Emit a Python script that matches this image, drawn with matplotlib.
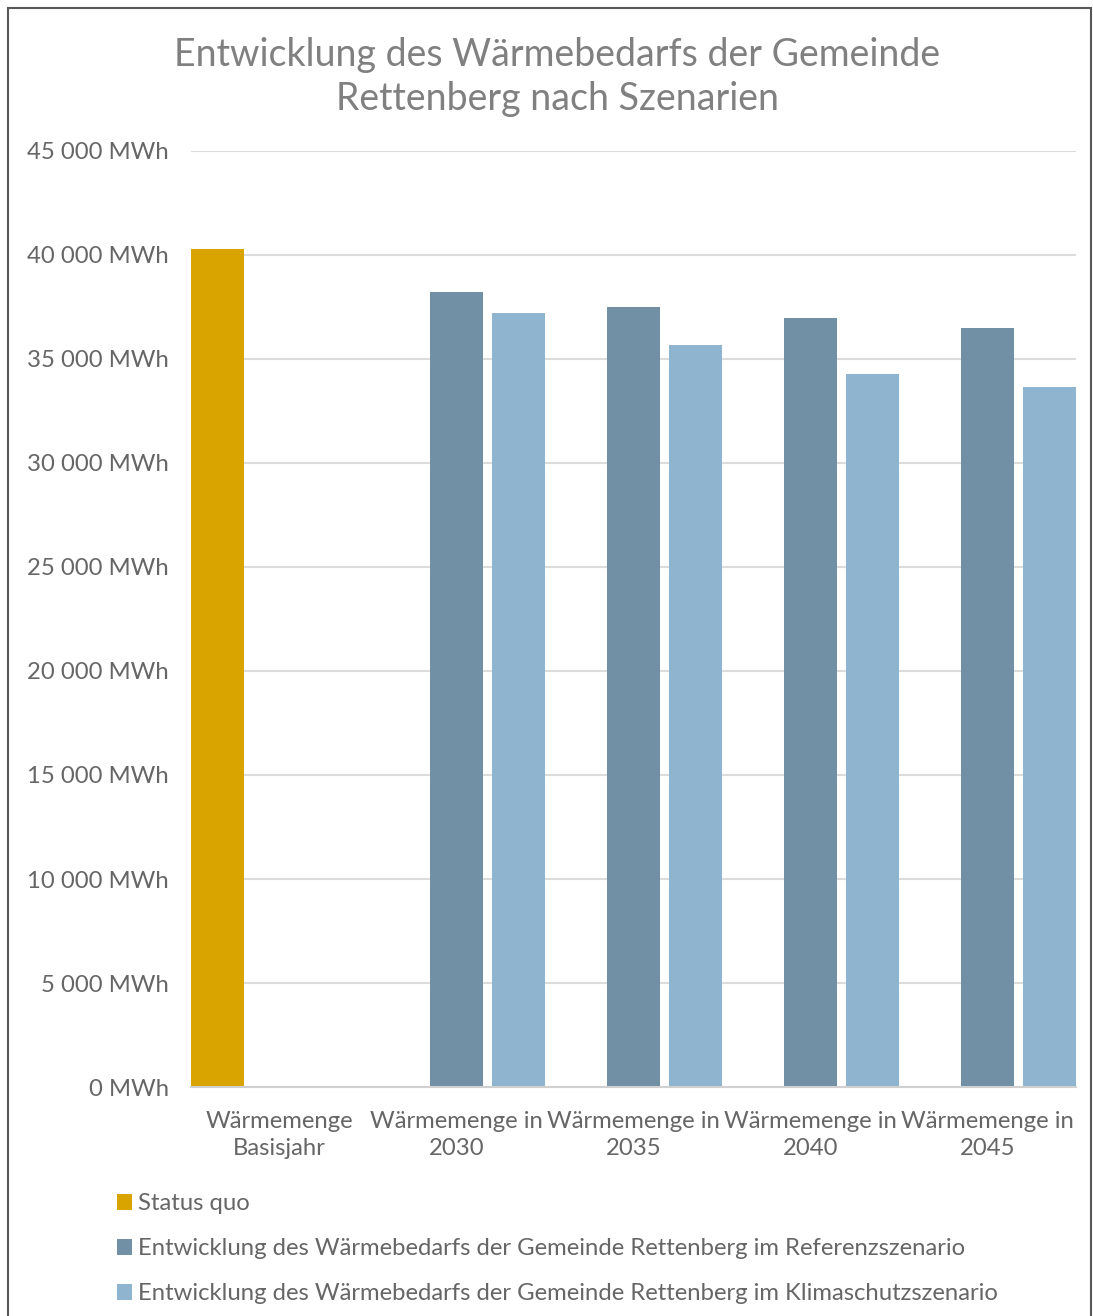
import numpy as np
import matplotlib.pyplot as plt
from matplotlib.patches import Rectangle

plt.rcParams['font.family'] = ['Lato', 'DejaVu Sans']

categories = ["Wärmemenge\nBasisjahr", "Wärmemenge in\n2030", "Wärmemenge in\n2035",
              "Wärmemenge in\n2040", "Wärmemenge in\n2045"]
status_quo = [40300, np.nan, np.nan, np.nan, np.nan]
referenz = [np.nan, 38200, 37500, 36950, 36500]
klimaschutz = [np.nan, 37200, 35650, 34300, 33650]
series_names = ["Status quo",
                "Entwicklung des Wärmebedarfs der Gemeinde Rettenberg im Referenzszenario",
                "Entwicklung des Wärmebedarfs der Gemeinde Rettenberg im Klimaschutzszenario"]
colors = ["#D9A300", "#718FA5", "#8EB4CF"]

text_col = "#666666"
fs = 17.2

fig = plt.figure(figsize=(10.93, 13.16), dpi=100)
ax = fig.add_axes([191/1093, 1 - 1087/1316, (1076-191)/1093, (1087-151)/1316])

x = np.arange(len(categories))
w = 0.3
step = 0.35
for i, (vals, c, name) in enumerate(zip([status_quo, referenz, klimaschutz], colors, series_names)):
    ax.bar(x + (i - 1) * step, vals, width=w, color=c, label=name, zorder=3)

ax.set_xlim(-0.5, len(categories) - 0.5)
ax.set_ylim(0, 45000)
ax.set_yticks(np.arange(0, 45001, 5000))
ax.set_yticklabels([f"{v:,} MWh".replace(",", " ") for v in range(0, 45001, 5000)])
ax.set_xticks(x)
ax.set_xticklabels(categories, linespacing=1.4)
ax.tick_params(axis='both', length=0, labelsize=fs, colors=text_col)
ax.tick_params(axis='y', pad=16)
ax.tick_params(axis='x', pad=17)
ax.grid(axis='y', color="#dcdcdc", linewidth=1.5, zorder=0)
for s in ['left', 'right', 'top']:
    ax.spines[s].set_visible(False)
ax.spines['bottom'].set_color("#d0d0d0")
ax.spines['bottom'].set_linewidth(1.5)
ax.spines['bottom'].set_zorder(4)

fig.text(557/1093, 1 - 77/1316, "Entwicklung des Wärmebedarfs der Gemeinde\nRettenberg nach Szenarien",
         ha='center', va='center', fontsize=27, color="#808080", linespacing=1.3)

# legend below the axes
handles, labels = ax.get_legend_handles_labels()
fig.legend(handles, labels, loc='upper left', bbox_to_anchor=(95/1093, 1 - 1172/1316),
           frameon=False, fontsize=fs, labelcolor=text_col, handlelength=0.65,
           handleheight=0.65, handletextpad=0.25, labelspacing=1.0)

# outer frame of the chart area
fig.patches.append(Rectangle((8/1093, -0.01), (1091-8)/1093, 1 - 8/1316 + 0.01,
                             transform=fig.transFigure, fill=False,
                             edgecolor="#595959", linewidth=1.5))

fig.savefig("out.png", dpi=100)
